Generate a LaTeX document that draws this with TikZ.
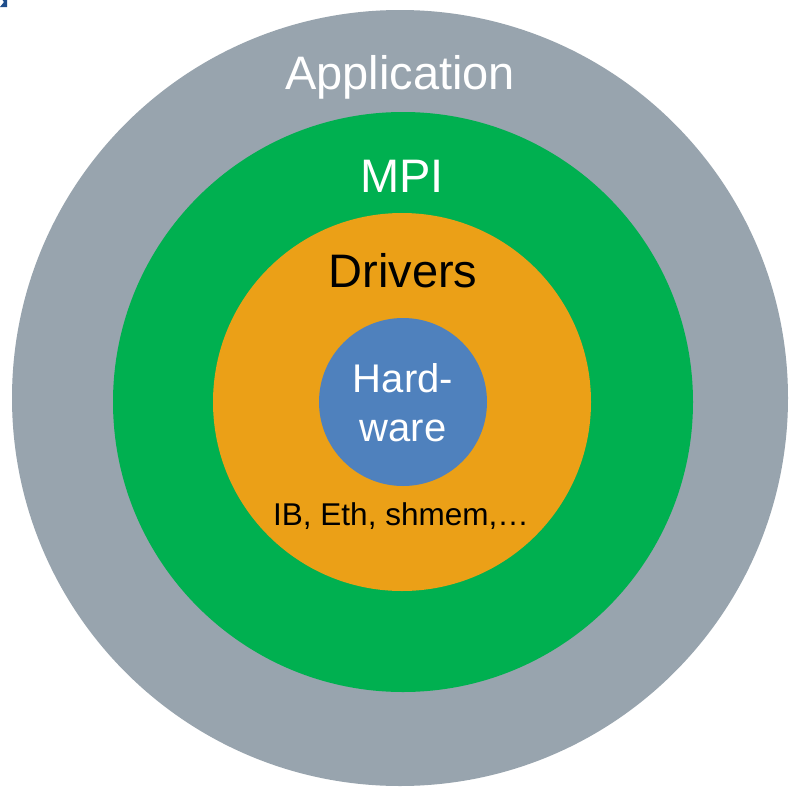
\documentclass[tikz,border=0pt]{standalone}
\usepackage{fontspec}
\setmainfont{Liberation Sans}
\definecolor{appgray}{HTML}{98A4AE}
\definecolor{mpigreen}{HTML}{00B050}
\definecolor{drvorange}{HTML}{EBA017}
\definecolor{hwblue}{HTML}{4F81BD}
\definecolor{markblue}{HTML}{1F4E8C}
\begin{document}
\begin{tikzpicture}[x=1pt,y=-1pt,
  ring/.style={circle,inner sep=0pt,draw=none},
  lbl/.style={anchor=base,inner sep=0pt}]
\useasboundingbox (0,0) rectangle (788,790);
\fill[white] (0,0) rectangle (788,790);
\fill[markblue] (0,7) -- (4,2) -- (2.5,0) -- (7,0) -- (7,7) -- cycle;
\node[ring,fill=appgray,minimum size=776pt] (app) at (400,398) {};
\node[ring,fill=mpigreen,minimum size=580pt] (mpi) at (403,402) {};
\node[ring,fill=drvorange,minimum size=378pt] (drv) at (402,402) {};
\node[ring,fill=hwblue,minimum size=168pt] (hw) at (403,402) {};
\node[lbl,text=white,font=\fontsize{47}{56}\selectfont] (tapp) at (400,89) {Application};
\node[lbl,text=white,font=\fontsize{47}{56}\selectfont] (tmpi) at (402,192) {MPI};
\node[lbl,text=black,font=\fontsize{47}{56}\selectfont] (tdrv) at (403,287) {Drivers};
\node[lbl,text=white,font=\fontsize{40}{48}\selectfont] (thw1) at (403,392) {Hard-};
\node[lbl,text=white,font=\fontsize{40}{48}\selectfont] (thw2) at (403,441) {ware};
\node[lbl,text=black,font=\fontsize{31.5}{38}\selectfont] (tib) at (401,525) {IB, Eth, shmem,…};
\end{tikzpicture}
\end{document}
